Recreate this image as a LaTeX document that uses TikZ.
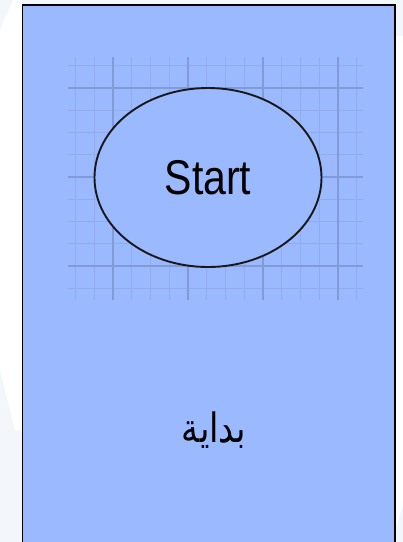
\documentclass[tikz,border=0pt]{standalone}
\usepackage{fontspec}
\setmainfont{Liberation Sans}
\newfontfamily\arabicfont[Script=Arabic]{DejaVu Sans}
\TeXXeTstate=1
\usetikzlibrary{shapes.geometric}
\definecolor{lanefill}{RGB}{155,185,255}
\definecolor{pagetint}{RGB}{243,247,251}
\tikzset{
  laneline/.style={draw=black,line width=1.6pt,fill=lanefill},
  minorgrid/.style={draw=lanefill!93!black,line width=0.8pt},
  majorgrid/.style={draw=lanefill!84!black,line width=1.2pt},
  startshape/.style={ellipse,draw=black!90,line width=1.9pt,fill=lanefill,
    inner sep=0pt,minimum width=227pt,minimum height=179pt},
  labelfont/.style={font=\fontsize{41}{48}\selectfont},
}
\newcommand{\tall}[1]{\scalebox{1}[1.19]{#1}}

\begin{document}
\begin{tikzpicture}[x=1pt,y=-1pt]
  \useasboundingbox (0,0) rectangle (403,542);
  \clip (0,0) rectangle (403,542);
  % page behind the lane
  \fill[pagetint] (0,0) rectangle (403,542);
  \fill[white] (13,0) -- (22,0) -- (22,430) -- (15,430) -- (0,370) -- (0,30) -- cycle;
  \fill[white] (395,36) -- (403,36) -- (403,505) -- (395,530) -- cycle;
  % lane
  \draw[laneline] (22.5,5) rectangle (395,560);
  % grid behind the start shape
  \foreach \i in {0,...,15}{%
    \draw[minorgrid] ({75.5+18.75*\i},57) -- ({75.5+18.75*\i},300);}
  \foreach \j in {0,...,10}{%
    \draw[minorgrid] (68,{65.75+22.25*\j}) -- (363,{65.75+22.25*\j});}
  \foreach \x in {113,188,263,338}{\draw[majorgrid] (\x,57) -- (\x,300);}
  \foreach \y in {88,177,266}{\draw[majorgrid] (68,\y) -- (363,\y);}
  \node[startshape,labelfont] (start) at (208,177.5) {\tall{Start}};
  \node[font=\arabicfont\fontsize{34}{40}\selectfont] (startname) at (214,430)
    {\tall{\beginR بداية\endR}};
\end{tikzpicture}
\end{document}
